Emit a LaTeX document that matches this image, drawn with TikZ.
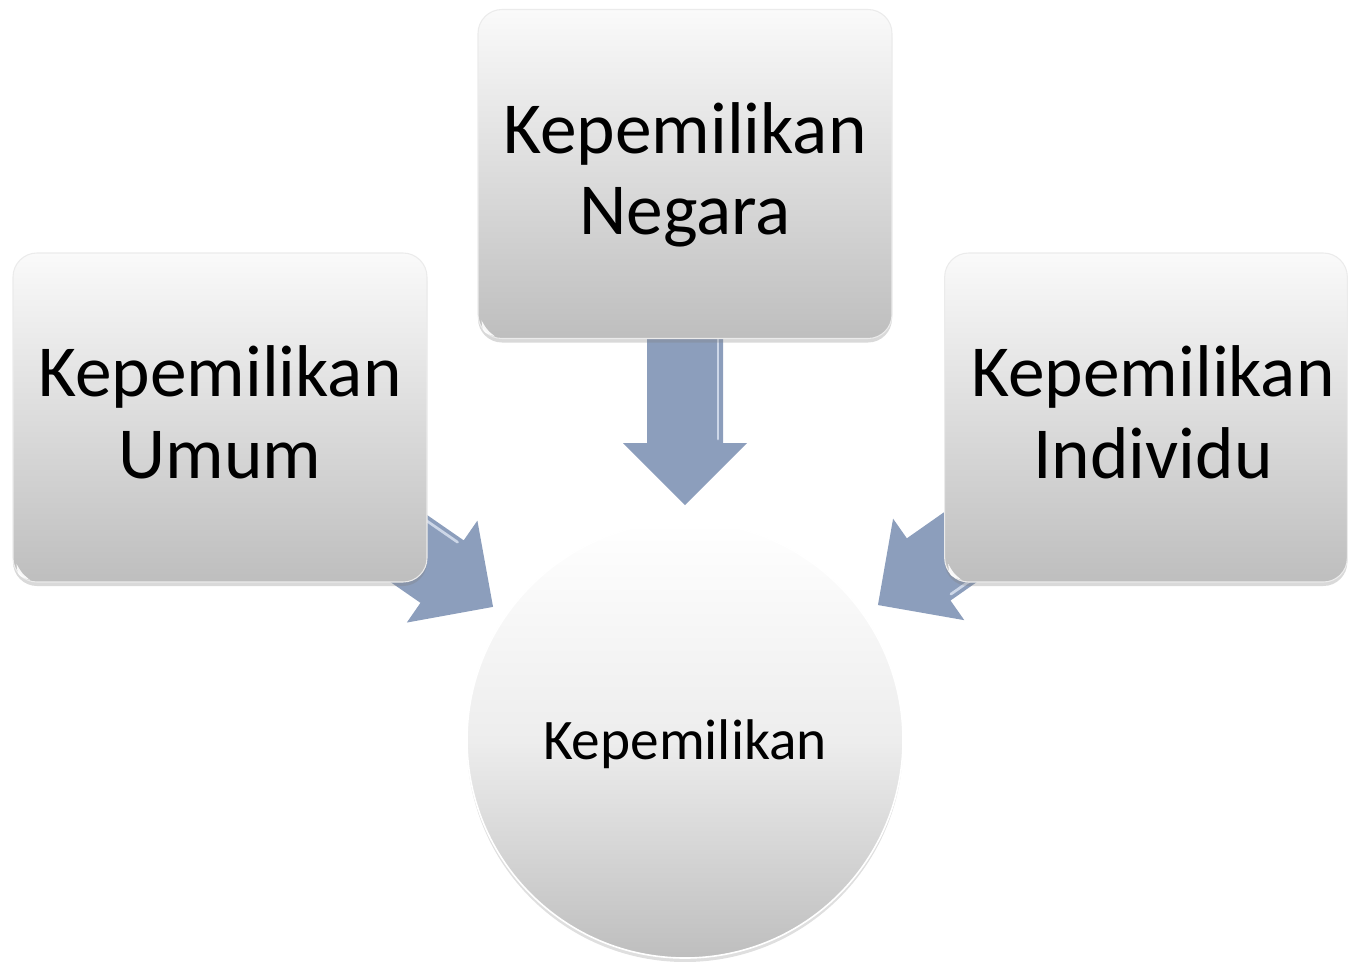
\documentclass[tikz,border=0pt]{standalone}
\usepackage{fontspec}
\setmainfont{Carlito}
\usetikzlibrary{calc,shadows,backgrounds}
\definecolor{arrowblue}{RGB}{140,158,188}
\definecolor{arrowlight}{RGB}{205,215,232}
\definecolor{boxtop}{RGB}{250,250,250}
\definecolor{boxbot}{RGB}{190,190,190}
\definecolor{boxedge}{RGB}{235,235,235}
\newcommand\topstr{\rule{0pt}{42.75pt}}
\newcommand\botstr{\rule[-12.75pt]{0pt}{12.75pt}}
\newcommand\rsh{\hspace*{10.5pt}}
\tikzset{
  boxnode/.style={draw=boxedge, line width=0.8pt, rounded corners=18pt,
    top color=boxtop, bottom color=boxbot,
    minimum width=310.5pt, minimum height=246.75pt, inner sep=0pt,
    align=center, font=\fontsize{55}{61}\selectfont,
    drop shadow={shadow xshift=0pt, shadow yshift=-3pt, opacity=0.3}},
  circnode/.style={circle, draw=white, line width=1.2pt,
    top color=white, bottom color=boxbot, middle color=white!93!black,
    minimum size=327pt, inner sep=0pt,
    font=\fontsize{43}{50}\selectfont,
    drop shadow={shadow xshift=0pt, shadow yshift=-3pt, opacity=0.25}},
  pics/blockarrow/.style={code={
    \fill[arrowblue] (0,0) -- (-62,62) -- (-62,38) -- (-#1,38) -- (-#1,-38)
      -- (-62,-38) -- (-62,-62) -- cycle;
    \draw[arrowlight, line width=2pt, line cap=round] (-#1,-33) -- (-66,-33);
  }},
  glint/.style={white, opacity=0.9}
}
\begin{document}
\begin{tikzpicture}[x=0.75pt, y=-0.75pt]
\useasboundingbox (0,0) rectangle (1348,961);
\node[boxnode] (tbox) at (685,174) {\topstr Kepemilikan\\Negara\botstr};
\node[boxnode] (lbox) at (220,417.5) {\topstr Kepemilikan\\Umum\botstr};
\node[boxnode, minimum width=302pt] (rbox) at (1146,417.5) {\topstr\rsh Kepemilikan\\\rsh Individu\botstr};
\node[circnode] (circ) at (685,740) {\rule{0pt}{36pt}Kepemilikan};
\foreach \b in {tbox,lbox,rbox}{
  \fill[glint] ([xshift=3pt,yshift=14pt]\b.south west) .. controls ([xshift=4pt,yshift=5pt]\b.south west) .. ([xshift=13pt,yshift=2pt]\b.south west)
    .. controls ([xshift=7pt,yshift=7pt]\b.south west) .. cycle;
}
\coordinate (tipT) at ($(circ.center)!176.25pt!(tbox.center)$);
\coordinate (tipL) at ($(circ.center)!175.2pt!(lbox.center)$);
\coordinate (tipR) at ($(circ.center)!176.6pt!(rbox.center)$);
\begin{pgfonlayer}{background}
\pic[rotate=-90] at (tipT) {blockarrow=200};
\pic[rotate=-34.7] at (tipL) {blockarrow=200};
\pic[rotate=-144.94] at (tipR) {blockarrow=200};
\end{pgfonlayer}
\end{tikzpicture}
\end{document}
